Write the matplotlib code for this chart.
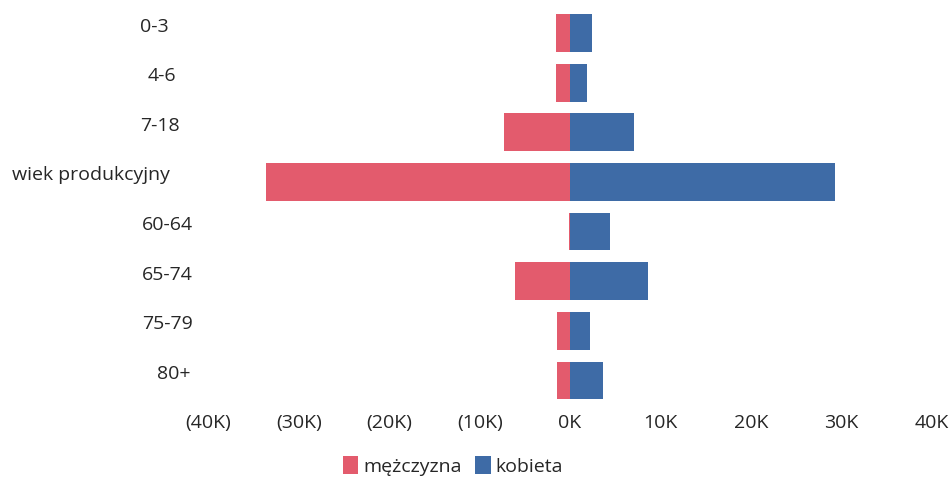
import matplotlib
matplotlib.use("Agg")
import matplotlib.pyplot as plt
import matplotlib.transforms as mtransforms
from matplotlib.patches import Patch

# ---- data (thousands) ----
categories = ["0-3", "4-6", "7-18", "wiek produkcyjny", "60-64", "65-74", "75-79", "80+"]
male = [1.5, 1.5, 7.3, 33.6, 0.1, 6.1, 1.4, 1.4]      # mężczyzna (plotted to the left)
female = [2.4, 1.9, 7.1, 29.3, 4.4, 8.6, 2.2, 3.6]    # kobieta (plotted to the right)
tick_values = [-40, -30, -20, -10, 0, 10, 20, 30, 40]
tick_labels = ["(40K)", "(30K)", "(20K)", "(10K)", "0K", "10K", "20K", "30K", "40K"]
series_names = ["mężczyzna", "kobieta"]

# ---- style ----
RED = "#E35B6D"
BLUE = "#3E6BA6"
TXT = "#262626"
FONT = ["Open Sans", "DejaVu Sans"]
FS = 14.0
label_left_px = [140, 148, 140, 12, 142, 142, 142, 157]

W, H = 952, 482
fig = plt.figure(figsize=(W / 100, H / 100), dpi=100)
plt.rcParams["font.family"] = FONT

left_px, right_px = 208.5, 931.5
top_px, bot_px = 8.2, 405.3
ax = fig.add_axes([left_px / W, 1 - bot_px / H, (right_px - left_px) / W, (bot_px - top_px) / H])

y = list(range(len(categories)))
ax.barh(y, [-m for m in male], height=0.76, color=RED, edgecolor="none")
ax.barh(y, female, height=0.76, color=BLUE, edgecolor="none")

ax.set_xlim(-40, 40)
ax.set_ylim(len(categories) - 0.5, -0.5)
ax.set_xticks(tick_values)
ax.set_xticklabels(tick_labels, fontsize=FS, color=TXT, family=FONT)
ax.tick_params(axis="x", length=0, pad=6)
ax.set_yticks([])
for s in ax.spines.values():
    s.set_visible(False)

# category labels (left-side, offset slightly above bar centres as in reference)
for i, cat in enumerate(categories):
    tr = mtransforms.blended_transform_factory(fig.transFigure, ax.transData)
    tr = mtransforms.offset_copy(tr, fig=fig, x=0, y=6.5, units="dots")
    ax.text(label_left_px[i] / W, i, cat, transform=tr, ha="left", va="center",
            fontsize=FS, color=TXT, family=FONT, clip_on=False)

handles = [Patch(facecolor=RED, edgecolor="none"), Patch(facecolor=BLUE, edgecolor="none")]
fig.legend(handles, series_names, loc="center", bbox_to_anchor=(453 / W, 1 - 466 / H),
           ncol=2, frameon=False, handlelength=0.8, handleheight=1.0, handletextpad=0.25,
           columnspacing=0.7, prop={"family": FONT, "size": FS}, labelcolor=TXT)

fig.savefig("out.png", dpi=100, facecolor="white")
